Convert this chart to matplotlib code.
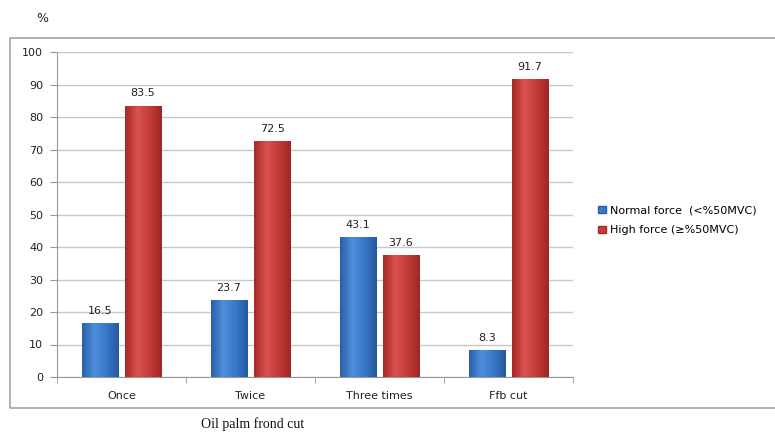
import matplotlib
matplotlib.use("Agg")
import matplotlib.pyplot as plt
import numpy as np
from matplotlib.patches import Rectangle
from matplotlib.colors import LinearSegmentedColormap

categories = ["Once", "Twice", "Three times", "Ffb cut"]
normal = [16.5, 23.7, 43.1, 8.3]
high = [83.5, 72.5, 37.6, 91.7]
series_names = ["Normal force  (<%50MVC)", "High force (\u2265%50MVC)"]
yticks = [0, 10, 20, 30, 40, 50, 60, 70, 80, 90, 100]

fig = plt.figure(figsize=(7.75, 4.32), dpi=100)
fig.patch.set_facecolor("white")
ax = fig.add_axes([57/775, (432-377)/432, (573-57)/775, (377-52)/432])

x = np.arange(len(categories))
w = 0.28
off = 0.167
blue_cmap = LinearSegmentedColormap.from_list("b", ["#2a5fa8", "#4d8fdc", "#3a78c9", "#24599f"])
red_cmap = LinearSegmentedColormap.from_list("r", ["#a8282a", "#d9524f", "#c43c39", "#9e2527"])

def grad_bars(xs, vals, cmap, color):
    bars = ax.bar(xs, vals, w, color=color, zorder=3, edgecolor="none")
    grad = np.linspace(0, 1, 64).reshape(1, -1)
    for b in bars:
        im = ax.imshow(grad, cmap=cmap, aspect="auto", zorder=3.5,
                       extent=(b.get_x(), b.get_x() + b.get_width(), 0, b.get_height()))
        im.set_clip_path(b)
    return bars

b1 = grad_bars(x - off, normal, blue_cmap, "#3a78c9")
b2 = grad_bars(x + off, high, red_cmap, "#c43c39")

for xs, vals in ((x - off, normal), (x + off, high)):
    for xi, v in zip(xs, vals):
        ax.text(xi, v + 2.2, f"{v}", ha="center", va="bottom", fontsize=8, color="#222222", zorder=5)

ax.set_xlim(-0.5, len(categories) - 0.5)
ax.set_ylim(0, 100)
ax.set_yticks(yticks)
ax.set_yticklabels([str(t) for t in yticks], fontsize=8, color="#222222")
ax.set_xticks(x)
ax.set_xticklabels(categories, fontsize=8, color="#222222")
ax.set_xticks(np.arange(-0.5, len(categories)), minor=True)
ax.tick_params(axis="x", which="major", length=0, pad=10)
ax.tick_params(axis="x", which="minor", length=4, color="#999999")
ax.tick_params(axis="y", length=5, color="#999999", pad=5)
ax.grid(axis="y", color="#c8c8c8", linewidth=1, zorder=0)
ax.set_axisbelow(True)
for s in ("top", "right"):
    ax.spines[s].set_visible(False)
for s in ("left", "bottom"):
    ax.spines[s].set_color("#999999")

# legend
handles = [Rectangle((0, 0), 1, 1, facecolor="#3a78c9", edgecolor="#2a5fa8"),
           Rectangle((0, 0), 1, 1, facecolor="#c43c39", edgecolor="#a8282a")]
fig.legend(handles, series_names, loc="upper left", bbox_to_anchor=(594/775, 1 - 201/432),
           frameon=False, fontsize=8, handlelength=0.7, handleheight=0.7,
           handletextpad=0.3, labelspacing=0.9, borderaxespad=0)

# chart border
fig.add_artist(Rectangle((10/775, (432-408)/432), 1.0, (408-38)/432, transform=fig.transFigure,
                         fill=False, edgecolor="#a6a6a6", linewidth=1.2))

fig.text(42/775, 1 - 18/432, "%", fontsize=9, ha="center", va="center", color="#222222")
fig.text(253/775, 1 - 424/432, "Oil palm frond cut", fontsize=10, ha="center", va="center",
         family="Liberation Serif", color="#111111")

fig.savefig("out.png", dpi=100)
